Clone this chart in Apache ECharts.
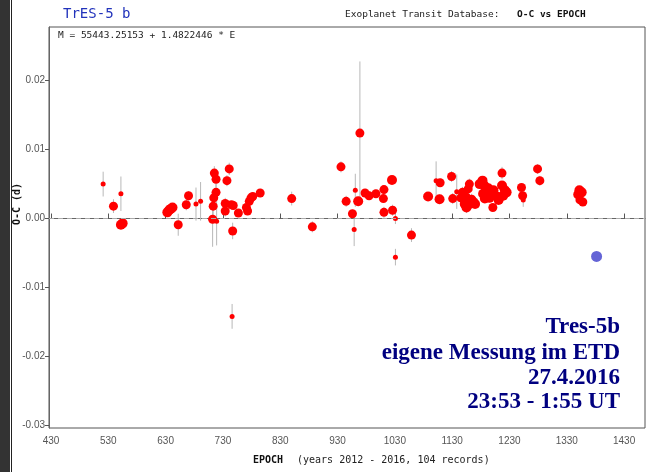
<!DOCTYPE html>
<html><head><meta charset="utf-8">
<script src="https://cdn.jsdelivr.net/npm/echarts@6/dist/echarts.min.js"></script>
<style>html,body{margin:0;padding:0;background:#fff}#c{width:660px;height:472px}</style>
</head><body><div id="c"></div>
<script>
// ---- data ----
const epochs = [521,539,552,552,555,633,636,639,642,652,666,670,683,691,712,713,714,715,718,718,719,734,734,737,741,746,745,748,747,757,771,773,776,779,782,795,850,886,936,945,956,959,961,966,969,978,985,997,1010,1011,1011,1025,1026,1031,1031,1059,1088,1102,1109,1108,1129,1131,1138,1145,1148,1152,1155,1155,1158,1160,1161,1164,1167,1170,1178,1183,1186,1184,1190,1187,1193,1195,1201,1202,1208,1211,1217,1217,1219,1222,1225,1251,1253,1254,1279,1283,1350,1352,1356,1353,1358];
const ocValues = [0.0050,0.0018,0.0036,-0.0009,-0.0007,0.0009,0.0012,0.0014,0.0016,-0.0009,0.0020,0.0033,0.0021,0.0025,-0.0001,0.0018,0.0030,0.0066,0.0057,0.0038,-0.0004,0.0022,0.0011,0.0055,0.0072,-0.0142,0.0020,0.0019,-0.0018,0.0008,0.0016,0.0011,0.0025,0.0030,0.0032,0.0037,0.0029,-0.0012,0.0075,0.0025,0.0007,-0.0016,0.0041,0.0025,0.0124,0.0037,0.0033,0.0036,0.0029,0.0042,0.0009,0.0056,0.0012,0.0000,-0.0056,-0.0024,0.0032,0.0055,0.0052,0.0028,0.0061,0.0029,0.0039,0.0030,0.0038,0.0021,0.0016,0.0031,0.0043,0.0050,0.0021,0.0028,0.0024,0.0021,0.0050,0.0055,0.0048,0.0036,0.0036,0.0029,0.0044,0.0030,0.0016,0.0041,0.0032,0.0027,0.0066,0.0048,0.0033,0.0041,0.0038,0.0045,0.0033,0.0027,0.0072,0.0055,0.0035,0.0041,0.0038,0.0027,0.0024];
const ocErrors = [0.0018,0.0010,0.0025,0.0006,0.0005,0.0004,0.0004,0.0004,0.0004,0.0016,0.0008,0.0007,0.0024,0.0028,0.0040,0.0020,0.0012,0.0010,0.0012,0.0012,0.0035,0.0008,0.0008,0.0008,0.0009,0.0018,0.0005,0.0005,0.0012,0.0005,0.0006,0.0006,0.0006,0.0006,0.0006,0.0006,0.0010,0.0008,0.0008,0.0008,0.0006,0.0024,0.0024,0.0007,0.0104,0.0006,0.0006,0.0006,0.0006,0.0006,0.0008,0.0006,0.0008,0.0008,0.0012,0.0010,0.0006,0.0028,0.0006,0.0007,0.0008,0.0008,0.0025,0.0008,0.0008,0.0008,0.0008,0.0008,0.0008,0.0008,0.0008,0.0008,0.0006,0.0006,0.0006,0.0006,0.0006,0.0006,0.0006,0.0006,0.0006,0.0006,0.0006,0.0006,0.0006,0.0006,0.0009,0.0006,0.0006,0.0006,0.0006,0.0006,0.0006,0.0010,0.0007,0.0007,0.0005,0.0005,0.0005,0.0005,0.0004];
const dataQuality = [5,2,5,1,1,1,1,1,1,2,2,2,5,5,2,2,2,2,2,2,5,2,2,2,2,5,2,2,2,2,2,2,2,2,2,2,2,2,2,2,2,5,5,1,2,2,2,2,2,2,2,1,2,5,5,2,1,5,2,1,2,2,5,2,2,1,1,2,2,2,1,2,1,1,1,1,1,1,1,1,1,1,2,1,1,1,2,1,1,1,1,2,2,5,2,2,1,1,1,2,2];
const ownEpoch = [1382];
const ownOC = [-0.0055];
const xTicks = [430,530,630,730,830,930,1030,1130,1230,1330,1430];
const yTicks = [-0.03,-0.02,-0.01,0,0.01,0.02];

const sizeByDQ = {1:10, 2:9, 3:7, 4:6, 5:5};
const chart = echarts.init(document.getElementById('c'), null, {renderer:'canvas'});
const errData = epochs.map((e,i)=>[e, ocValues[i]-ocErrors[i], ocValues[i]+ocErrors[i]]);
const ptData = epochs.map((e,i)=>[e, ocValues[i], dataQuality[i]]);
const mono = 'DejaVu Sans Mono';
const sans = 'Liberation Sans';
const serifFont = 'bold 23px "Liberation Serif"';
chart.setOption({
  animation:false,
  backgroundColor:'#fff',
  grid:{left:49,right:15,top:27,bottom:44,show:true,borderColor:'#555',borderWidth:1,backgroundColor:'transparent'},
  xAxis:{type:'value',min:426.5,max:1466.5,
    axisLine:{show:true,lineStyle:{color:'#666'}},
    axisTick:{show:true,inside:true,length:5,lineStyle:{color:'#555'},customValues:xTicks},
    axisLabel:{color:'#555',fontFamily:sans,fontSize:10,margin:8,customValues:xTicks,formatter:v=>String(v)},
    splitLine:{show:false}},
  yAxis:{type:'value',min:-0.0304,max:0.0278,
    axisLine:{show:true,lineStyle:{color:'#666'}},
    axisTick:{show:true,inside:false,length:4,lineStyle:{color:'#555'},customValues:yTicks},
    axisLabel:{color:'#555',fontFamily:sans,fontSize:10,margin:4,customValues:yTicks,formatter:v=>(Math.abs(v)<1e-9?0:v).toFixed(2)},
    splitLine:{show:false}},
  series:[
    {type:'custom',data:errData,encode:{x:0,y:[1,2]},z:1,silent:true,
     renderItem:(params,api)=>{
       const p1=api.coord([api.value(0),api.value(1)]);
       const p2=api.coord([api.value(0),api.value(2)]);
       return {type:'line',shape:{x1:p1[0],y1:p1[1],x2:p2[0],y2:p2[1]},style:{stroke:'#b8b8b8',lineWidth:1}};
     }},
    {type:'scatter',data:ptData,z:3,symbol:'circle',symbolSize:v=>sizeByDQ[v[2]],
     itemStyle:{color:'#ff0000',opacity:1},
     markLine:{silent:true,symbol:['none','none'],label:{show:false},
       lineStyle:{color:'#aaa',type:[5,4],width:1},data:[{yAxis:0}]}},
    {type:'scatter',data:ownEpoch.map((e,i)=>[e,ownOC[i]]),z:4,symbol:'circle',symbolSize:11,
     itemStyle:{color:'#3d3dcc'}}
  ],
  graphic:[
    {type:'rect',left:0,top:0,shape:{width:10,height:472},style:{fill:'#333'}},
    {type:'rect',left:11,top:0,shape:{width:1,height:472},style:{fill:'#222'}},
    {type:'text',left:63,top:7,style:{text:'TrES-5 b',fill:'#2233bb',font:'14px "'+mono+'"'}},
    {type:'text',left:345,top:10,style:{text:'Exoplanet Transit Database:',fill:'#222',font:'9.5px "'+mono+'"'}},
    {type:'text',left:517,top:10,style:{text:'O-C vs EPOCH',fill:'#111',font:'bold 9.5px "'+mono+'"'}},
    {type:'text',left:58,top:31,style:{text:'M = 55443.25153 + 1.4822446 * E',fill:'#222',font:'9.5px "'+mono+'"'}},
    {type:'text',x:17,y:204,rotation:Math.PI/2,style:{text:'O-C (d)',fill:'#111',font:'bold 10px "'+mono+'"',align:'center',verticalAlign:'middle'}},
    {type:'text',left:253,top:455,style:{text:'EPOCH',fill:'#111',font:'bold 10px "'+mono+'"'}},
    {type:'text',left:297,top:455,style:{text:'(years 2012 - 2016, 104 records)',fill:'#222',font:'10px "'+mono+'"'}},
    {type:'text',x:620,y:327,style:{text:'Tres-5b',fill:'#000080',font:serifFont,align:'right',verticalAlign:'middle'}},
    {type:'text',x:620,y:353,style:{text:'eigene Messung im ETD',fill:'#000080',font:serifFont,align:'right',verticalAlign:'middle'}},
    {type:'text',x:620,y:378,style:{text:'27.4.2016',fill:'#000080',font:serifFont,align:'right',verticalAlign:'middle'}},
    {type:'text',x:620,y:402,style:{text:'23:53 - 1:55 UT',fill:'#000080',font:serifFont,align:'right',verticalAlign:'middle'}}
  ]
});
</script></body></html>
